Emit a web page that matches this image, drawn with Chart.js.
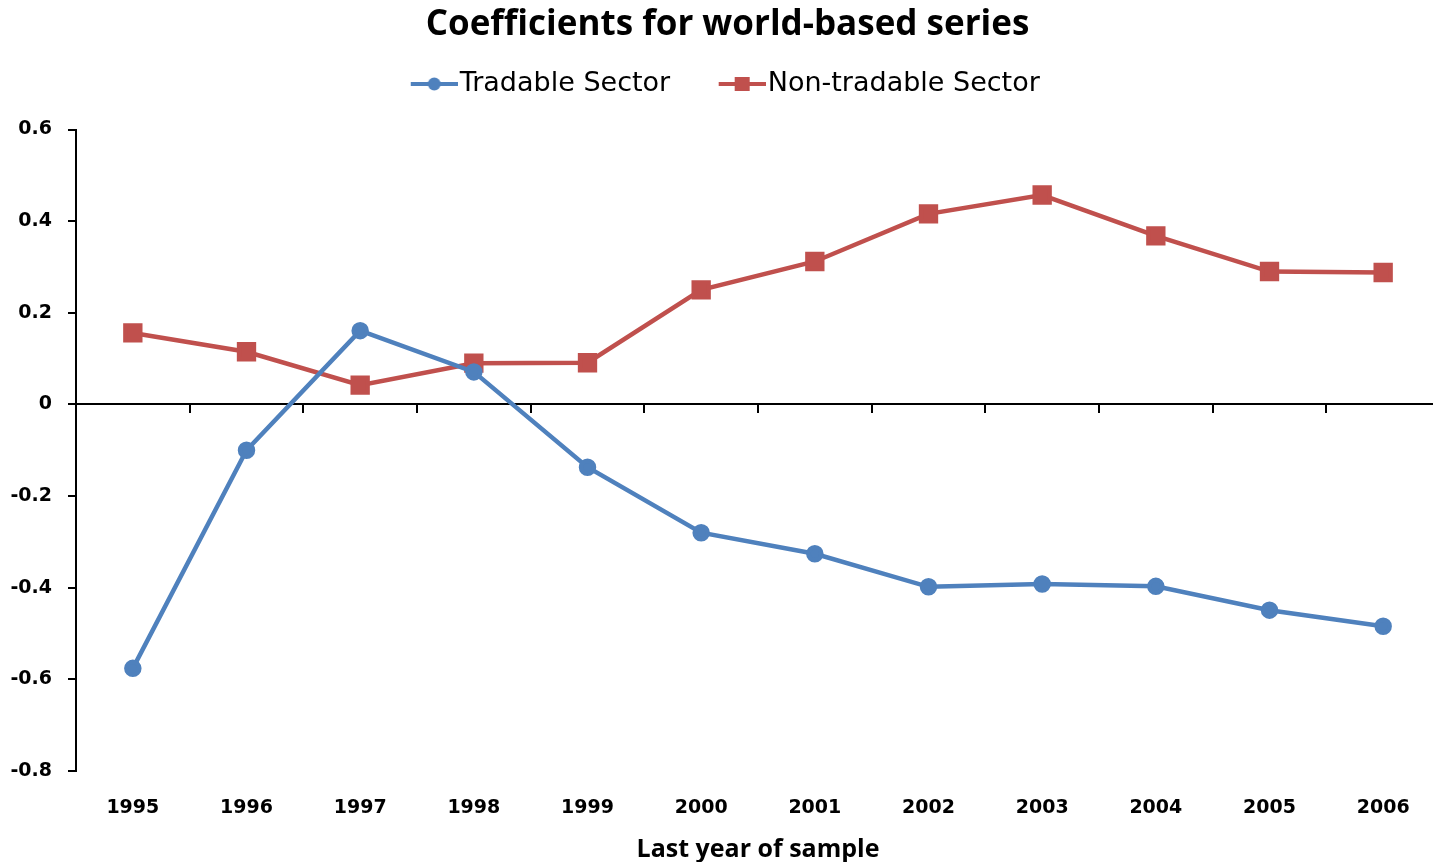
<!DOCTYPE html>
<html>
<head>
<meta charset="utf-8">
<script src="https://cdn.jsdelivr.net/npm/chart.js@4/dist/chart.umd.min.js"></script>
<style>
    html, body { margin: 0; padding: 0; background: #fff; overflow: hidden; }
    #graph { display: block; }
</style>
</head>
<body>
<canvas id="graph" width="1455" height="862"></canvas>
<script>
"use strict"

// *** DATI *** //
const years = ["1995", "1996", "1997", "1998", "1999", "2000", "2001", "2002", "2003", "2004", "2005", "2006"];
const tradable = [-0.576, -0.100, 0.161, 0.071, -0.137, -0.280, -0.326, -0.398, -0.392, -0.397, -0.449, -0.484];
const nonTradable = [0.156, 0.115, 0.042, 0.090, 0.091, 0.250, 0.312, 0.416, 0.457, 0.368, 0.290, 0.288];

const blue = "#4F81BD", red = "#C0504D";
const tickFont = { family: "DejaVu Sans", size: 19, weight: "bold" };

// icona legenda: linea + marker
function legendIcon (color, square) {
    let c = document.createElement("canvas");
    c.width = 97; c.height = 20;
    let ctx = c.getContext("2d");
    ctx.strokeStyle = color;
    ctx.lineWidth = 4;
    ctx.beginPath();
    ctx.moveTo(50, 10);
    ctx.lineTo(97, 10);
    ctx.stroke();
    ctx.fillStyle = color;
    if (square)
        ctx.fillRect(66, 3, 15, 14);
    else {
        ctx.beginPath();
        ctx.arc(73.5, 10, 6.5, 0, Math.PI * 2);
        ctx.fill();
    }
    return c;
}
const icons = [legendIcon(blue, false), legendIcon(red, true)];

// spazio sotto la legenda + legenda un po' a sinistra
const legendMargin = {
    id: "legendMargin",
    beforeInit (chart) {
        let fit = chart.legend.fit;
        chart.legend.fit = function () {
            fit.bind(chart.legend)();
            this.height += 22;
            if (this.lineWidths && this.lineWidths.length)
                this.lineWidths[0] += 43;
        };
    }
};

new Chart(document.getElementById("graph"), {
    type: "line",
    data: {
        labels: years,
        datasets: [
            {
                label: "Tradable Sector",
                data: tradable,
                borderColor: blue,
                backgroundColor: blue,
                borderWidth: 4.5,
                pointStyle: "circle",
                pointRadius: 6.5,
                pointHoverRadius: 6.5,
                tension: 0
            },
            {
                label: "Non-tradable Sector",
                data: nonTradable,
                borderColor: red,
                backgroundColor: red,
                borderWidth: 4.5,
                pointStyle: "rect",
                pointRadius: 10.5,
                pointHoverRadius: 10.5,
                tension: 0
            }
        ]
    },
    options: {
        responsive: false,
        animation: false,
        layout: { padding: 0 },
        plugins: {
            title: {
                display: true,
                text: "Coefficients for world-based series",
                color: "#000",
                font: { family: "Open Sans", size: 35, weight: "bold", lineHeight: 1.2 },
                padding: { top: 4, bottom: 14.5 }
            },
            legend: {
                display: true,
                labels: {
                    usePointStyle: true,
                    pointStyleWidth: 74,
                    padding: 10,
                    color: "#000",
                    font: { family: "DejaVu Sans", size: 27 },
                    generateLabels (chart) {
                        let items = Chart.defaults.plugins.legend.labels.generateLabels(chart);
                        items.forEach((it, i) => { it.pointStyle = icons[i]; });
                        return items;
                    }
                }
            },
            tooltip: { enabled: false }
        },
        scales: {
            y: {
                min: -0.8,
                max: 0.6,
                afterFit (s) { s.width = 76; },
                ticks: {
                    stepSize: 0.2,
                    padding: 16,
                    color: "#000",
                    font: tickFont,
                    callback: v => String(Math.round(v * 10) / 10)
                },
                grid: { drawOnChartArea: false, drawTicks: true, tickLength: 8, color: "#000", lineWidth: 2 },
                border: { display: true, color: "#000", width: 2 }
            },
            x: {
                type: "category",
                position: { y: 0 },
                offset: true,
                afterFit (s) { s.height = 0; s.paddingLeft = 0; s.paddingRight = 0; },
                ticks: { display: false },
                grid: { offset: true, drawOnChartArea: false, drawTicks: true, tickLength: 8, color: "#000", lineWidth: 2 },
                border: { display: true, color: "#000", width: 2 }
            },
            x2: {
                type: "category",
                position: "bottom",
                offset: true,
                afterFit (s) { s.height = 91; s.paddingLeft = 0; s.paddingRight = 0; },
                ticks: { padding: 26, color: "#000", font: tickFont, maxRotation: 0, autoSkip: false },
                grid: { display: false, drawTicks: false },
                border: { display: false },
                title: {
                    display: true,
                    text: "Last year of sample",
                    color: "#000",
                    font: { family: "Open Sans", size: 25, weight: "bold", lineHeight: 1 },
                    padding: { top: 0, bottom: 0 }
                }
            }
        }
    },
    plugins: [legendMargin]
});
</script>
</body>
</html>
